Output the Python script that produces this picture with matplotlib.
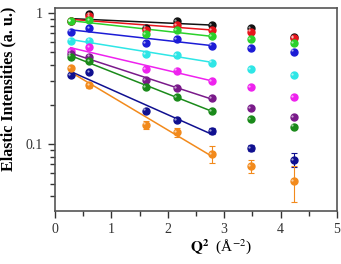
import numpy as np
import matplotlib
matplotlib.use("Agg")
import matplotlib.pyplot as plt
from matplotlib.ticker import FixedLocator, NullFormatter, MultipleLocator

plt.rcParams['font.family'] = ['Liberation Serif', 'DejaVu Serif']
plt.rcParams['mathtext.fontset'] = 'stix'

# Q^2 positions (A^-2)
q2 = [0.28, 0.61, 1.61, 2.16, 2.78, 3.48, 4.24]
nfit = 5  # lines are fitted over the first five points

colors = ["#111111", "#e8141b", "#2bd12b", "#1c1cd6", "#2ee6e6",
          "#ee22ee", "#7a1a8a", "#1a8a1a", "#101090", "#f28a1c"]

black = [0.86, 0.98, 0.773, 0.869, 0.81, 0.764, 0.656]
red = [0.86, 0.94, 0.742, 0.81, 0.742, 0.72, 0.641]
lime = [0.86, 0.885, 0.688, 0.742, 0.667, 0.63, 0.587]
blue = [0.72, 0.764, 0.593, 0.63, 0.563, 0.538, 0.507]
cyan = [0.615, 0.615, 0.486, 0.478, 0.418, 0.374, 0.336]
magenta = [0.515, 0.547, 0.372, 0.363, 0.303, 0.274, 0.23]
purple = [0.486, 0.464, 0.308, 0.266, 0.226, 0.187, 0.16]
dgreen = [0.464, 0.43, 0.271, 0.23, 0.179, 0.155, 0.136]
navy = [0.336, 0.353, 0.18, 0.152, 0.126, 0.094, 0.076]
orange = [0.382, 0.282, 0.141, 0.123, 0.084, 0.068, 0.052]

err_navy = [0.008, 0.008, 0.006, 0.005, 0.006, 0.005, 0.009]
err_orange = [0.012, 0.012, 0.01, 0.01, 0.012, 0.008, 0.016]

series = [black, red, lime, blue, cyan, magenta, purple, dgreen, navy, orange]

fig = plt.figure(figsize=(3.41, 2.64), dpi=100)
ax = fig.add_axes([0.161, 0.201, 0.827, 0.769])

x = np.array(q2)
xf = np.array([q2[0], q2[nfit - 1]])
for i, (ys, c) in enumerate(zip(series, colors)):
    ys = np.array(ys)
    p = np.polyfit(x[:nfit], np.log(ys[:nfit]), 1)
    ax.plot(xf, np.exp(np.polyval(p, xf)), color=c, lw=1.1, zorder=2)
    if i == 8:
        err = err_navy
    elif i == 9:
        err = err_orange
    else:
        err = ys * 0.025
    ax.errorbar(x, ys, yerr=err, fmt='o', color=c, ms=5, mec=c,
                elinewidth=0.8, capsize=2, capthick=0.8, zorder=3)
    # little highlight so the dots look like shaded balls
    ax.plot(x - 0.03, ys * 1.02, 'o', color='white', ms=1.6, alpha=0.6,
            mew=0, zorder=4)

ax.set_yscale('log')
ax.set_xlim(0, 5)
ax.set_ylim(0.031, 1.09)
ax.xaxis.set_major_locator(MultipleLocator(1))
ax.xaxis.set_minor_locator(MultipleLocator(0.5))
ax.set_yticks([0.1, 1])
ax.set_yticklabels(['0.1', '1'])
minor_y = [k * 0.01 for k in range(4, 10)] + [k * 0.1 for k in range(2, 10)]
ax.set_yticks(minor_y, minor=True)
ax.yaxis.set_minor_formatter(NullFormatter())

ax.tick_params(which='major', direction='out', length=5, width=1, labelsize=10, colors='#333333')
ax.tick_params(which='minor', direction='out', length=3.5, width=1, colors='#333333')
for s in ax.spines.values():
    s.set_color('#555555')
    s.set_linewidth(1.2)

ax.set_ylabel('Elastic Intensities (a. u.)', fontsize=11.5, fontweight='bold')
ax.yaxis.set_label_coords(-0.135, 0.6)
ax.set_xlabel(r'$\mathbf{Q^2}$  (Å$^{-2}$)', fontsize=11)
ax.xaxis.set_label_coords(0.59, -0.13)

fig.savefig('out.png', dpi=100)
